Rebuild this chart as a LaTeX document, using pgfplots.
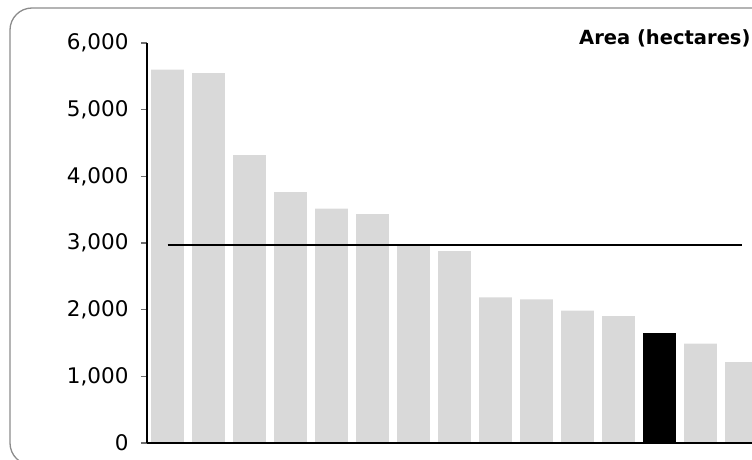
\documentclass[border=0pt]{standalone}
\usepackage{pgfplots}
\pgfplotsset{compat=1.18}
\usepackage{fontspec}
\setmainfont{DejaVu Sans}
\definecolor{framegray}{RGB}{140,140,140}
\definecolor{tickgray}{RGB}{110,110,110}
\definecolor{bargray}{RGB}{217,217,217}
\pgfplotstableread{
idx val
0 5600
1 5550
2 4320
3 3765
4 3515
5 3435
6 2960
7 2880
8 2185
9 2155
10 1985
11 1905
13 1490
14 1215
}\graybars
\pgfplotstableread{
idx val
12 1650
}\blackbars
\pgfplotstableread{
idx val
0 2970
1 2970
2 2970
3 2970
4 2970
5 2970
6 2970
7 2970
8 2970
9 2970
10 2970
11 2970
12 2970
13 2970
14 2970
}\avgline
\begin{document}
\begin{tikzpicture}
\path[use as bounding box] (0pt,0pt) rectangle (752pt,459pt);
\draw[color=framegray, line width=1.3pt, rounded corners=22pt] (10pt,-6pt) rectangle (775pt,451pt);
\begin{axis}[
  at={(147pt,16pt)}, anchor=south west,
  width=615pt, height=400pt, scale only axis,
  xmin=-0.5, xmax=14.5, ymin=0, ymax=6000,
  axis x line*=bottom,
  axis y line*=left,
  axis on top,
  axis line style={black, line width=1.1pt},
  xtick=\empty,
  ytick={0,1000,...,6000},
  major tick length=6pt,
  ytick align=outside,
  ytick style={color=tickgray, line width=1.2pt},
  yticklabel style={font=\fontsize{21.5}{24}\selectfont, text=black, xshift=-9pt},
  /pgf/number format/.cd, 1000 sep={,}, assume math mode=true,
  /pgfplots/.cd,
  clip=false,
]
\addplot[ybar, bar width=32.6pt, bar shift=0pt, fill=bargray, draw=none] table[x=idx, y=val] {\graybars};
\addplot[ybar, bar width=32.6pt, bar shift=0pt, fill=black, draw=none] table[x=idx, y=val] {\blackbars};
\addplot[sharp plot, black, line width=2pt, mark=none] table[x=idx, y=val] {\avgline};
\end{axis}
\node[anchor=base west, inner sep=0pt, font=\bfseries\fontsize{19.5}{22}\selectfont] at (579pt,414pt) {Area (hectares)};
\end{tikzpicture}
\end{document}
